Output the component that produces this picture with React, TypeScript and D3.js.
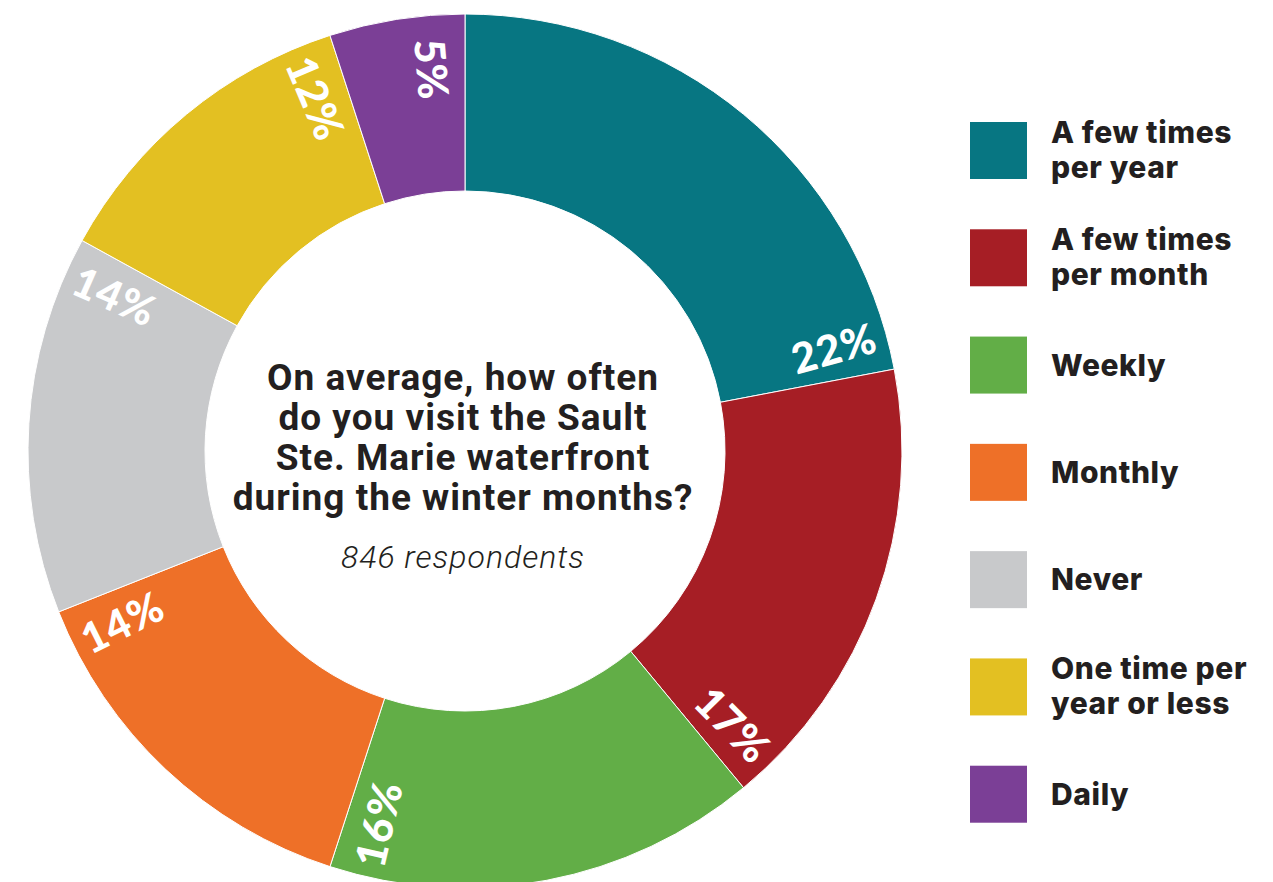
import React from "react";
import * as d3 from "d3";

const categories = [
  "A few times per year",
  "A few times per month",
  "Weekly",
  "Monthly",
  "Never",
  "One time per year or less",
  "Daily",
];
const values = [22, 17, 16, 14, 14, 12, 5];
const colors = ["#077682", "#A61E25", "#62AE47", "#EE7028", "#C8C9CB", "#E3C022", "#7B3F96"];
const legendLines = [
  ["A few times", "per year"],
  ["A few times", "per month"],
  ["Weekly"],
  ["Monthly"],
  ["Never"],
  ["One time per", "year or less"],
  ["Daily"],
];
const titleLines = [
  "On average, how often",
  "do you visit the Sault",
  "Ste. Marie waterfront",
  "during the winter months?",
];
const subtitle = "846 respondents";

export default function App() {
  const width = 1273;
  const height = 882;
  const cx = 465;
  const cy = 451;
  const outerR = 437;
  const innerR = 260;
  const labelR = 383;

  const pie = d3.pie<number>().sort(null).value((d) => d);
  const arcs = pie(values);
  const arcGen = d3.arc<d3.PieArcDatum<number>>().innerRadius(innerR).outerRadius(outerR);

  const legendY = d3.scaleBand<number>().domain(d3.range(categories.length)).range([122, 873]).paddingInner(0);

  return (
    <svg width={width} height={height} style={{ position: "absolute", left: 0, top: 0, background: "#fff" }}>
      <rect x={0} y={0} width={width} height={height} fill="#fff" />
      <g transform={`translate(${cx},${cy})`}>
        {arcs.map((a, i) => (
          <path key={i} d={arcGen(a) || ""} fill={colors[i]} stroke="#fff" strokeWidth={1} />
        ))}
        {arcs.map((a, i) => {
          const ang = a.endAngle - 0.085;
          const deg = (ang * 180) / Math.PI;
          const x = labelR * Math.sin(ang);
          const y = -labelR * Math.cos(ang);
          const rot = deg < 180 ? deg - 90 : deg + 90;
          return (
            <text
              key={"l" + i}
              transform={`translate(${x},${y}) rotate(${rot})`}
              textAnchor="middle"
              dominantBaseline="central"
              fill="#fff"
              fontFamily="Lato, 'Open Sans', sans-serif"
              fontWeight={900}
              fontSize={42}
              letterSpacing={1}
            >
              {values[i]}%
            </text>
          );
        })}
        {titleLines.map((t, i) => (
          <text
            key={"t" + i}
            x={-2}
            y={-61 + i * 40}
            textAnchor="middle"
            fill="#231f20"
            fontFamily="Roboto, sans-serif"
            fontWeight={700}
            fontSize={37}
            letterSpacing={1}
          >
            {t}
          </text>
        ))}
        <text
          x={-2}
          y={117}
          textAnchor="middle"
          fill="#231f20"
          fontFamily="Roboto, sans-serif"
          fontWeight={300}
          fontStyle="italic"
          fontSize={32}
          letterSpacing={1}
        >
          {subtitle}
        </text>
      </g>
      <g>
        {categories.map((c, i) => {
          const top = legendY(i) as number;
          const lines = legendLines[i];
          return (
            <g key={"g" + i}>
              <rect x={970} y={top} width={57} height={57} fill={colors[i]} />
              {lines.map((ln, j) => (
                <text
                  key={j}
                  x={1051}
                  y={lines.length === 1 ? top + 39 : top + 21 + j * 35}
                  fill="#231f20"
                  fontFamily="Inter, sans-serif"
                  fontWeight={800}
                  fontSize={30}
                  letterSpacing={0.6}
                >
                  {ln}
                </text>
              ))}
            </g>
          );
        })}
      </g>
    </svg>
  );
}
